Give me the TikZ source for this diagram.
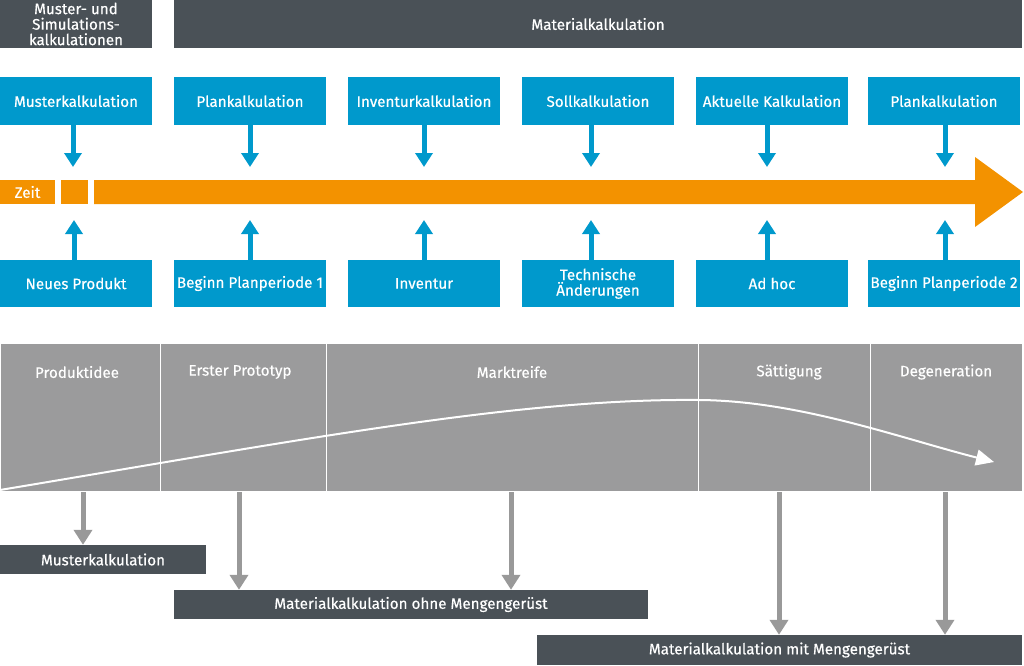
\documentclass[tikz,border=0pt]{standalone}
\usepackage{fontspec}
\setmainfont{Fira Sans}[FakeBold=0.4]
\usetikzlibrary{arrows.meta}
\definecolor{kalkBlue}{HTML}{0099CC}
\definecolor{kalkDark}{HTML}{4A5157}
\definecolor{kalkGrey}{HTML}{9B9B9C}
\definecolor{kalkArrow}{HTML}{999999}
\definecolor{kalkOrange}{HTML}{F39200}
\newcommand{\kalkFont}{\fontsize{15.2}{15.5}\selectfont}

\begin{document}
\begin{tikzpicture}[x=1pt,y=-1pt,
  bluebox/.style={fill=kalkBlue, text=white, minimum width=152pt, minimum height=48pt, inner sep=0pt, align=center, font=\kalkFont},
  darkbox/.style={fill=kalkDark, text=white, inner sep=0pt, align=center, font=\kalkFont},
  phasebox/.style={fill=kalkGrey, draw=white, line width=1.2pt, minimum height=148pt, inner sep=0pt, anchor=north west},
  phasetext/.style={text=white, inner sep=0pt, font=\kalkFont},
  bluearrow/.style={draw=kalkBlue, line width=5pt, -{Triangle[width=17pt,length=14pt]}},
  greyarrow/.style={draw=kalkArrow, line width=5pt, -{Triangle[width=18pt,length=15pt]}}]
\useasboundingbox (0,0) rectangle (1024,665);
\node[darkbox, minimum width=152pt, minimum height=48pt] (simkalk) at (76,24) {Muster- und\\Simulations-\\kalkulationen};
\node[darkbox, minimum width=848pt, minimum height=48pt] (matkalk) at (598,24) {Materialkalkulation};
\node[bluebox] (muster) at (76,101) {Musterkalkulation};
\node[bluebox] (plan1) at (250,101) {Plankalkulation};
\node[bluebox] (inventurk) at (424,101) {Inventurkalkulation};
\node[bluebox] (soll) at (598,101) {Sollkalkulation};
\node[bluebox] (aktuell) at (772,101) {Aktuelle Kalkulation};
\node[bluebox] (plan2) at (944,101) {Plankalkulation};
\node[bluebox, minimum height=47pt] (neu) at (76,283.5) {Neues Produkt};
\node[bluebox, minimum height=47pt] (beginn1) at (250,283.5) {Beginn Planperiode 1};
\node[bluebox, minimum height=47pt] (inventur) at (424,283.5) {Inventur};
\node[bluebox, minimum height=47pt] (technik) at (598,283.5) {Technische\\Änderungen};
\node[bluebox, minimum height=47pt] (adhoc) at (772,283.5) {Ad hoc};
\node[bluebox, minimum height=47pt] (beginn2) at (944,283.5) {Beginn Planperiode 2};
\node[fill=kalkOrange, text=white, minimum width=55pt, minimum height=24pt, inner sep=0pt, font=\kalkFont] (zeit) at (27.5,192) {Zeit};
\fill[kalkOrange] (61,180) rectangle (88,204);
\fill[kalkOrange] (94,180) -- (975,180) -- (975,157) -- (1023,192) -- (975,227) -- (975,204) -- (94,204) -- cycle;
\coordinate (t1) at (73,167);
\coordinate (t2) at (250,167);
\coordinate (t3) at (424,167);
\coordinate (t4) at (591,167);
\coordinate (t5) at (767,167);
\coordinate (t6) at (945,167);
\coordinate (b1) at (74,220);
\coordinate (b2) at (250,220);
\coordinate (b3) at (424,220);
\coordinate (b4) at (591,220);
\coordinate (b5) at (767,220);
\coordinate (b6) at (945,220);
\draw[bluearrow] (muster.south -| t1) -- (t1);
\draw[bluearrow] (plan1.south -| t2) -- (t2);
\draw[bluearrow] (inventurk.south -| t3) -- (t3);
\draw[bluearrow] (soll.south -| t4) -- (t4);
\draw[bluearrow] (aktuell.south -| t5) -- (t5);
\draw[bluearrow] (plan2.south -| t6) -- (t6);
\draw[bluearrow] (neu.north -| b1) -- (b1);
\draw[bluearrow] (beginn1.north -| b2) -- (b2);
\draw[bluearrow] (inventur.north -| b3) -- (b3);
\draw[bluearrow] (technik.north -| b4) -- (b4);
\draw[bluearrow] (adhoc.north -| b5) -- (b5);
\draw[bluearrow] (beginn2.north -| b6) -- (b6);
\node[phasebox, minimum width=160pt] (idee) at (0,343) {};
\node[phasebox, minimum width=166pt] (prototyp) at (160,343) {};
\node[phasebox, minimum width=372pt] (markt) at (326,343) {};
\node[phasebox, minimum width=172pt] (saettigung) at (698,343) {};
\node[phasebox, minimum width=152pt] (degen) at (870,343) {};
\node[phasetext] (ideeT) at (77,372) {Produktidee};
\node[phasetext] (prototypT) at (240,372) {Erster Prototyp};
\node[phasetext] (marktT) at (512,372) {Marktreife};
\node[phasetext] (saettigungT) at (789,372) {Sättigung};
\node[phasetext] (degenT) at (946,372) {Degeneration};
\draw[white, line width=2pt, -{Triangle[width=16pt,length=18pt]}] (0,490) .. controls (300,440) and (520,398) .. (700,400) .. controls (800,401) and (900,438) .. (994,462);
\node[darkbox, minimum width=206pt, minimum height=29pt] (musterB) at (103,559.5) {Musterkalkulation};
\node[darkbox, minimum width=474pt, minimum height=29pt] (ohne) at (411,604.5) {Materialkalkulation ohne Mengengerüst};
\node[darkbox, minimum width=485pt, minimum height=30pt] (mit) at (779.5,650) {Materialkalkulation mit Mengengerüst};
\coordinate (g1) at (83,0);
\coordinate (g2) at (239,0);
\coordinate (g3) at (511,0);
\coordinate (g4) at (779,0);
\coordinate (g5) at (945,0);
\draw[greyarrow] (idee.south -| g1) -- (musterB.north -| g1);
\draw[greyarrow] (prototyp.south -| g2) -- (ohne.north -| g2);
\draw[greyarrow] (markt.south -| g3) -- (ohne.north -| g3);
\draw[greyarrow] (saettigung.south -| g4) -- (mit.north -| g4);
\draw[greyarrow] (degen.south -| g5) -- (mit.north -| g5);
\end{tikzpicture}
\end{document}
